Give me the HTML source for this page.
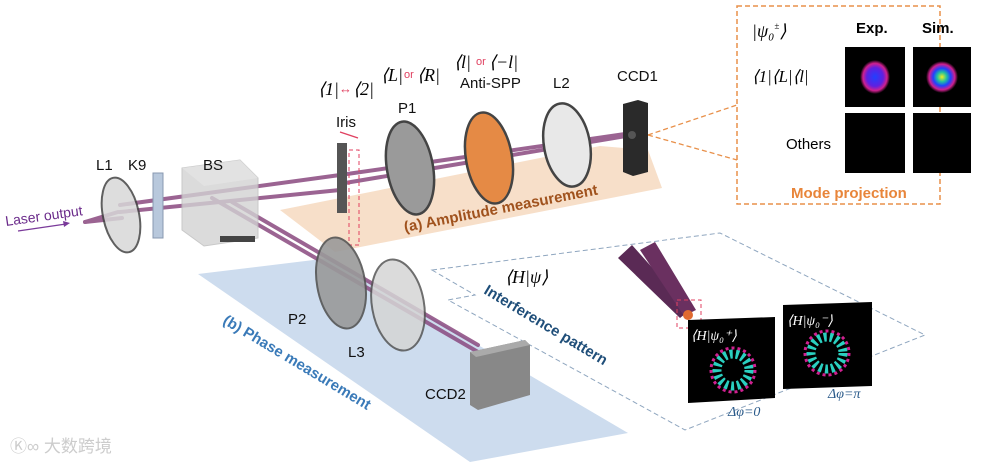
<!DOCTYPE html>
<html><head><meta charset="utf-8"><style>
body{margin:0;background:#fff;width:985px;height:467px;overflow:hidden;font-family:"Liberation Sans",sans-serif}
svg text{font-family:"Liberation Sans","Noto Sans CJK SC",sans-serif}
.s{font-family:"Liberation Serif",serif;font-style:italic}
</style></head><body>
<svg width="985" height="467" viewBox="0 0 985 467" xmlns="http://www.w3.org/2000/svg">
<defs>
<radialGradient id="spot" cx="50%" cy="50%" r="50%"><stop offset="0" stop-color="#2040ff"/><stop offset=".55" stop-color="#6020e0"/><stop offset=".8" stop-color="#d02090"/><stop offset="1" stop-color="#000"/></radialGradient>
<radialGradient id="spot2" cx="50%" cy="50%" r="50%"><stop offset="0" stop-color="#f0f020"/><stop offset=".3" stop-color="#20c0a0"/><stop offset=".55" stop-color="#2040ff"/><stop offset=".8" stop-color="#d02090"/><stop offset="1" stop-color="#000"/></radialGradient>
</defs>
<!-- planes -->
<polygon points="280,210 600,146 648,150 662,188 335,252" fill="#f7dfc9"/>
<polygon points="198,274 330,258 628,433 470,462" fill="#cddcee"/>
<polygon points="432,270 720,233 925,335 685,430 448,300 475,295" fill="none" stroke="#8fa6bf" stroke-width="1" stroke-dasharray="5,3"/>
<!-- mode projection box -->
<rect x="737" y="6" width="203" height="198" fill="none" stroke="#e8904a" stroke-width="1.5" stroke-dasharray="5,3"/>
<line x1="648" y1="135" x2="737" y2="105" stroke="#e8904a" stroke-width="1.3" stroke-dasharray="5,3"/>
<line x1="648" y1="135" x2="737" y2="160" stroke="#e8904a" stroke-width="1.3" stroke-dasharray="5,3"/>
<!-- beams -->
<g stroke="#8a4a80" stroke-width="4" opacity=".85" stroke-linecap="round">
<line x1="85" y1="222" x2="118" y2="212"/>
<line x1="85" y1="222" x2="122" y2="218"/>
<line x1="120" y1="205" x2="340" y2="175"/>
<line x1="120" y1="212" x2="340" y2="190"/>
<line x1="340" y1="175" x2="632" y2="133"/>
<line x1="345" y1="183" x2="632" y2="135"/>
<line x1="212" y1="198" x2="478" y2="352"/>
<line x1="232" y1="202" x2="478" y2="345"/>
</g>
<!-- laser arrow -->
<line x1="18" y1="231" x2="66" y2="224" stroke="#7a3a9a" stroke-width="1.2"/>
<polygon points="70,223 63,221 64,227" fill="#7a3a9a"/>
<text x="6" y="226" font-size="14" fill="#6a2a8a" transform="rotate(-8 6 226)">Laser output</text>
<!-- L1 -->
<ellipse cx="121" cy="215" rx="18" ry="38" transform="rotate(-12 121 215)" fill="#d8d8d8" stroke="#444" stroke-width="2" opacity=".85"/>
<!-- K9 -->
<rect x="153" y="173" width="10" height="65" fill="#b8c8dc" stroke="#8898b0"/>
<!-- BS -->
<polygon points="182,168 240,160 258,178 258,238 204,246 182,230" fill="#d3d3d3" opacity=".8" stroke="#bbb"/>
<polygon points="182,168 240,160 258,178 204,186" fill="#e4e4e4" opacity=".8"/>
<rect x="220" y="236" width="35" height="6" fill="#444"/>
<!-- Iris -->
<rect x="337" y="143" width="10" height="70" fill="#555"/>
<rect x="349" y="150" width="10" height="95" fill="none" stroke="#e04060" stroke-dasharray="4,3"/>
<line x1="340" y1="132" x2="358" y2="138" stroke="#e04060" stroke-width="1.3"/>
<!-- P1 -->
<ellipse cx="410" cy="168" rx="23" ry="47" transform="rotate(-10 410 168)" fill="#9a9a9a" stroke="#444" stroke-width="2.5"/>
<!-- Anti-SPP -->
<ellipse cx="489" cy="158" rx="23" ry="46" transform="rotate(-10 489 158)" fill="#e58a45" stroke="#444" stroke-width="2.5"/>
<!-- L2 -->
<ellipse cx="567" cy="145" rx="23" ry="42" transform="rotate(-10 567 145)" fill="#e8e8e8" stroke="#444" stroke-width="2.5"/>
<!-- CCD1 -->
<polygon points="623,104 638,100 648,103 648,172 633,176 623,172" fill="#2a2a2a"/>
<circle cx="632" cy="135" r="4" fill="#555"/>
<!-- P2 L3 -->
<ellipse cx="341" cy="283" rx="24" ry="46" transform="rotate(-10 341 283)" fill="#9a9a9a" stroke="#555" stroke-width="2" opacity=".9"/>
<ellipse cx="398" cy="305" rx="26" ry="46" transform="rotate(-10 398 305)" fill="#d5d5d5" stroke="#555" stroke-width="2" opacity=".85"/>
<!-- CCD2 -->
<polygon points="470,352 525,340 530,345 530,395 478,410 470,405" fill="#888"/>
<polygon points="470,352 525,340 530,345 476,357" fill="#aaa"/>
<!-- labels -->
<g font-size="15" fill="#111">
<text x="96" y="170">L1</text><text x="128" y="170">K9</text><text x="203" y="170">BS</text>
<text x="336" y="127">Iris</text><text x="398" y="113">P1</text><text x="460" y="88">Anti-SPP</text>
<text x="553" y="88">L2</text><text x="617" y="81">CCD1</text>
<text x="288" y="324">P2</text><text x="348" y="357">L3</text><text x="425" y="399">CCD2</text>
</g>
<text x="318" y="95" font-size="18" class="s">⟨1|</text><text x="339" y="93" font-size="13" fill="#e04060">↔</text><text x="353" y="95" font-size="18" class="s">⟨2|</text>
<text x="381" y="81" font-size="18" class="s">⟨L|</text><text x="404" y="78" font-size="11" fill="#e04060">or</text><text x="417" y="81" font-size="18" class="s">⟨R|</text>
<text x="454" y="68" font-size="18" class="s">⟨l|</text><text x="476" y="65" font-size="11" fill="#e04060">or</text><text x="489" y="68" font-size="18" class="s">⟨−l|</text>
<text x="405" y="232" font-size="15" font-weight="bold" fill="#a0521d" transform="rotate(-11 405 232)">(a) Amplitude measurement</text>
<text x="222" y="323" font-size="15" font-weight="bold" fill="#3a7ab8" transform="rotate(31 222 323)">(b) Phase measurement</text>
<text x="483" y="293" font-size="15" font-weight="bold" fill="#1f4e79" transform="rotate(31 483 293)">Interference pattern</text>
<text x="505" y="283" font-size="18" class="s">⟨H|ψ⟩</text>
<!-- mode projection contents -->
<text x="752" y="37" font-size="18" class="s">|ψ₀<tspan font-size="9" dy="-8">±</tspan><tspan dy="8">⟩</tspan></text>
<text x="856" y="33" font-size="15" font-weight="bold">Exp.</text>
<text x="922" y="33" font-size="15" font-weight="bold">Sim.</text>
<text x="752" y="82" font-size="17" class="s">⟨1|⟨L|⟨l|</text>
<text x="786" y="149" font-size="15">Others</text>
<rect x="845" y="47" width="60" height="60" fill="#000"/>
<ellipse cx="875" cy="77" rx="15" ry="17" fill="url(#spot)"/>
<rect x="913" y="47" width="58" height="60" fill="#000"/>
<circle cx="942" cy="77" r="16" fill="url(#spot2)"/>
<rect x="845" y="113" width="60" height="60" fill="#000"/>
<rect x="913" y="113" width="58" height="60" fill="#000"/>
<text x="791" y="198" font-size="15" font-weight="bold" fill="#e8853a">Mode projection</text>
<!-- cones -->
<polygon points="618,258 632,245 690,310 680,318" fill="#5a2a55"/>
<polygon points="640,250 655,242 696,310 684,316" fill="#6a3060"/>
<circle cx="688" cy="315" r="5" fill="#e06a30"/>
<rect x="677" y="300" width="24" height="28" fill="none" stroke="#e04060" stroke-dasharray="4,3"/>
<!-- interference images -->
<polygon points="688,320 775,317 775,398 688,403" fill="#000"/>
<polygon points="783,305 872,302 872,386 783,389" fill="#000"/>
<circle cx="733" cy="370" r="16" fill="none" stroke="#2ad0c0" stroke-width="9" stroke-dasharray="3,3"/>
<circle cx="733" cy="370" r="22" fill="none" stroke="#d02090" stroke-width="3" stroke-dasharray="3,3"/>
<circle cx="827" cy="353" r="16" fill="none" stroke="#2ad0c0" stroke-width="9" stroke-dasharray="3,3"/>
<circle cx="827" cy="353" r="22" fill="none" stroke="#d02090" stroke-width="3" stroke-dasharray="3,3"/>
<text x="691" y="340" font-size="14" fill="#fff" class="s">⟨H|ψ₀⁺⟩</text>
<text x="787" y="325" font-size="14" fill="#fff" class="s">⟨H|ψ₀⁻⟩</text>
<text x="728" y="416" font-size="14" fill="#2a5a8a" class="s">Δφ=0</text>
<text x="828" y="398" font-size="14" fill="#2a5a8a" class="s">Δφ=π</text>
<!-- watermark -->
<text x="10" y="452" font-size="17" fill="#ccc">Ⓚ∞ 大数跨境</text>
</svg>
</body></html>
